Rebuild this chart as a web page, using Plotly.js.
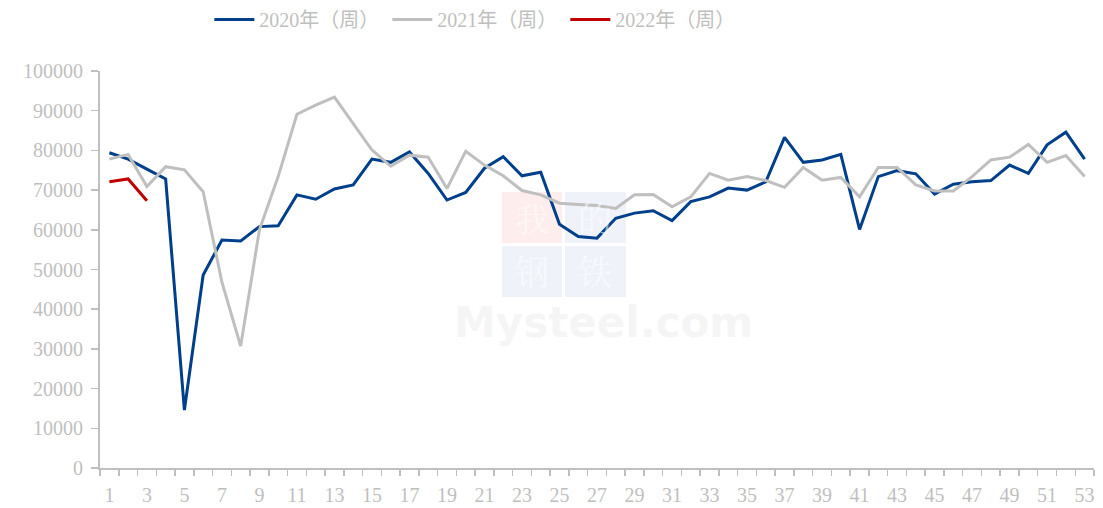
<!DOCTYPE html>
<html>
<head>
<meta charset="utf-8">
<script src="https://cdn.plot.ly/plotly-3.0.1.min.js"></script>
<style>html,body{margin:0;padding:0;background:#fff;}#chart{width:1103px;height:508px;}</style>
</head>
<body>
<div id="chart"></div>
<script>
const weeks = Array.from({length: 53}, (_, i) => i + 1);
const weekTickLabels = ['1','3','5','7','9','11','13','15','17','19','21','23','25','27','29','31','33','35','37','39','41','43','45','47','49','51','53'];
const seriesNames = ['2020年（周）', '2021年（周）', '2022年（周）'];
const values2020 = [79400, 77800, 75300, 72800, 14600, 48600, 57400, 57200, 60800, 61000,
  68800, 67700, 70300, 71300, 77800, 77000, 79600, 74200, 67500, 69400,
  75500, 78400, 73600, 74500, 61400, 58300, 57900, 62900, 64200, 64800,
  62300, 67100, 68300, 70500, 70000, 72100, 83300, 77000, 77600, 79000,
  60100, 73400, 74900, 74100, 69000, 71500, 72100, 72400, 76300, 74200,
  81400, 84600, 77800];
const values2021 = [77800, 79000, 70900, 75900, 75100, 69600, 46800, 30700, 60000, 73400,
  89100, 91400, 93400, 86800, 80100, 76000, 78800, 78300, 70400, 79800,
  76300, 73600, 69900, 68800, 66700, 66400, 66100, 65400, 68800, 68900,
  65800, 68300, 74200, 72500, 73400, 72400, 70700, 75700, 72500, 73200,
  68300, 75700, 75700, 71300, 69800, 69800, 73400, 77600, 78300, 81500,
  77000, 78700, 73400];
const values2022 = [72100, 72800, 67300];
const colors = ['#003f8a', '#bfbfbf', '#c00000'];

const serif = '"Liberation Serif", "Times New Roman", "Noto Sans CJK SC", serif';
const gray = '#bfbfbf';

const traces = [values2020, values2021, values2022].map((vals, i) => ({
  type: 'scatter', mode: 'lines',
  x: weeks.slice(0, vals.length), y: vals,
  name: seriesNames[i],
  line: {color: colors[i], width: 3},
  hoverinfo: 'x+y'
}));

// watermark (decorative)
const px = v => (v - 100) / 994;
const py = v => (468 - v) / 397;
const box = (x0, y0, x1, y1, c) => ({type: 'rect', xref: 'paper', yref: 'paper', layer: 'below',
  x0: px(x0), x1: px(x1), y0: py(y1), y1: py(y0), fillcolor: c, line: {width: 0}});
const ch = (t, cx, cy) => ({text: t, xref: 'paper', yref: 'paper', x: px(cx), y: py(cy), showarrow: false,
  font: {family: '"Noto Serif CJK SC", "Noto Sans CJK SC", serif', size: 34, color: 'rgba(255,255,255,0.55)'}});

const layout = {
  width: 1103, height: 508,
  margin: {l: 100, r: 9, t: 71, b: 40},
  paper_bgcolor: '#fff', plot_bgcolor: '#fff',
  font: {family: serif, color: gray, size: 20},
  showlegend: true,
  legend: {orientation: 'h', x: 0.11, xanchor: 'left', y: 1.0, yanchor: 'top',
    yref: 'container', font: {family: serif, size: 20, color: gray}, itemwidth: 40,
    entrywidth: 123, entrywidthmode: 'pixels', traceorder: 'normal'},
  xaxis: {
    range: [0.5, 53.5], showgrid: false, zeroline: false,
    showline: true, linecolor: gray, linewidth: 2,
    tickmode: 'array', tickvals: weekTickLabels.map(Number), ticktext: weekTickLabels,
    ticks: '', tickfont: {family: serif, size: 20, color: gray}, ticklabelstandoff: 8,
    minor: {tickmode: 'linear', tick0: 0.5, dtick: 1, ticks: 'outside', ticklen: 6, tickcolor: gray, tickwidth: 1.5, showgrid: false}
  },
  yaxis: {
    range: [0, 100000], dtick: 10000, tick0: 0, showgrid: false, zeroline: false,
    showline: true, linecolor: gray, linewidth: 2, tickformat: 'd',
    ticks: 'outside', ticklen: 7, tickcolor: gray, tickwidth: 1.5,
    tickfont: {family: serif, size: 20, color: gray}, ticklabelstandoff: 4
  },
  shapes: [
    box(502, 192, 562, 243, 'rgba(252,232,232,0.8)'),
    box(565, 192, 626, 243, 'rgba(236,239,248,0.8)'),
    box(502, 246, 562, 297, 'rgba(236,239,248,0.8)'),
    box(565, 246, 626, 297, 'rgba(236,239,248,0.8)')
  ],
  annotations: [
    ch('我', 532, 217), ch('的', 595, 217), ch('钢', 532, 270), ch('铁', 595, 270),
    {text: '<b>Mysteel.com</b>', xref: 'paper', yref: 'paper', x: px(603), y: py(322), showarrow: false,
     font: {family: 'DejaVu Sans, sans-serif', size: 42, color: 'rgba(238,238,238,0.55)'}}
  ]
};

Plotly.newPlot('chart', traces, layout, {displayModeBar: false, staticPlot: true});
</script>
</body>
</html>
